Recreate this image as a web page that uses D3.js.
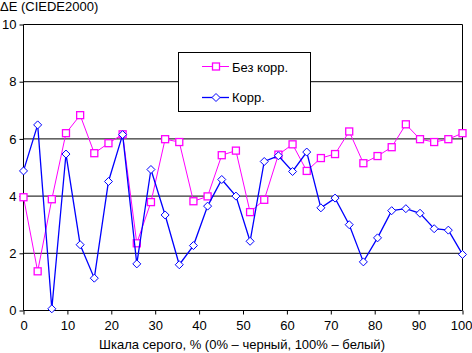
<!DOCTYPE html>
<html><head><meta charset="utf-8">
<script src="https://cdn.jsdelivr.net/npm/d3@7"></script>
<style>body{margin:0;background:#fff}svg{display:block}text{font-family:"Liberation Sans",Arial,sans-serif;font-size:13px;fill:#000}</style>
</head><body><svg id="c" width="472" height="353"></svg>
<script>
const xTicks = [0,10,20,30,40,50,60,70,80,90,100];
const yTicks = [0,2,4,6,8,10];
const seriesNames = ["Без корр.", "Корр."];
const bezKorr = [3.96,1.37,3.89,6.20,6.83,5.50,5.85,6.16,2.35,3.79,5.99,5.89,3.82,3.99,5.43,5.59,3.44,3.87,5.45,5.81,4.88,5.33,5.47,6.26,5.15,5.40,5.71,6.51,5.99,5.89,5.99,6.20];
const korr = [4.88,6.49,0.06,5.47,2.30,1.13,4.51,6.15,1.63,4.93,3.34,1.60,2.27,3.65,4.58,4.00,2.42,5.21,5.41,4.86,5.54,3.59,3.93,3.00,1.70,2.54,3.49,3.56,3.40,2.86,2.81,1.96];
const yTitle = "ΔE (CIEDE2000)";
const xTitle = "Шкала серого, % (0% – черный, 100% – белый)";

const svg = d3.select("#c");
const x = d3.scaleLinear().domain([0,100]).range([23.5,462.5]);
const y = d3.scaleLinear().domain([0,10]).range([310.5,24.5]);
const xAt = i => x(i*100/(bezKorr.length-1));

// gridlines
svg.append("g").selectAll("line").data(yTicks.filter(d=>d>0)).join("line")
  .attr("x1",x(0)).attr("x2",x(100)).attr("y1",d=>y(d)).attr("y2",d=>y(d))
  .attr("stroke","#000").attr("stroke-width",1);
// right border
svg.append("line").attr("x1",x(100)).attr("x2",x(100)).attr("y1",y(10)).attr("y2",y(0)).attr("stroke","#000");

// axes
const yAxis = d3.axisLeft(y).tickValues(yTicks).tickSize(4).tickPadding(3).tickFormat(d3.format("d"));
const gy = svg.append("g").attr("transform",`translate(${x(0)},0)`).call(yAxis);
const xAxis = d3.axisBottom(x).tickValues(xTicks).tickSize(4).tickPadding(6).tickFormat(d3.format("d"));
const gx = svg.append("g").attr("transform",`translate(0,${y(0)})`).call(xAxis);
[gy,gx].forEach(g=>{
  g.select(".domain").attr("stroke","#000");
  g.selectAll(".tick line").attr("stroke","#000");
  g.selectAll("text").style("font-family",'"Liberation Sans",Arial,sans-serif').style("font-size","13px").attr("fill","#000");
});
gx.select(".domain").attr("d",`M${x(0)},0H${x(100)}`);
gy.select(".domain").attr("d",`M0,${y(0)}V${y(10)}`);
gx.selectAll(".tick text").filter(d=>d===100).attr("text-anchor","end").attr("x",9.5);

// series
const line = d3.line().x((d,i)=>xAt(i)).y(d=>y(d));
svg.append("path").datum(bezKorr).attr("d",line).attr("fill","none").attr("stroke","#FF00FF").attr("stroke-width",1);
svg.append("g").selectAll("rect").data(bezKorr).join("rect")
  .attr("x",(d,i)=>xAt(i)-3.5).attr("y",d=>y(d)-3.5).attr("width",7).attr("height",7)
  .attr("fill","#fff").attr("stroke","#FF00FF").attr("stroke-width",1.3);
svg.append("path").datum(korr).attr("d",line).attr("fill","none").attr("stroke","#0000FF").attr("stroke-width",1.3);
const diamond = (cx,cy,r)=>`M${cx},${cy-r}L${cx+r},${cy}L${cx},${cy+r}L${cx-r},${cy}Z`;
svg.append("g").selectAll("path").data(korr).join("path")
  .attr("d",(d,i)=>diamond(xAt(i),y(d),4)).attr("fill","#fff").attr("stroke","#0000FF").attr("stroke-width",1);

// legend
const lg = svg.append("g");
lg.append("rect").attr("x",178.5).attr("y",52.5).attr("width",132).attr("height",59).attr("fill","#fff").attr("stroke","#000");
lg.append("line").attr("x1",202).attr("x2",229).attr("y1",66.5).attr("y2",66.5).attr("stroke","#FF00FF");
lg.append("rect").attr("x",212.5).attr("y",63).attr("width",7).attr("height",7).attr("fill","#fff").attr("stroke","#FF00FF").attr("stroke-width",1.3);
lg.append("text").attr("x",232).attr("y",71.5).text(seriesNames[0]);
lg.append("line").attr("x1",202).attr("x2",229).attr("y1",97.5).attr("y2",97.5).attr("stroke","#0000FF").attr("stroke-width",1.3);
lg.append("path").attr("d",diamond(216,97.5,4)).attr("fill","#fff").attr("stroke","#0000FF");
lg.append("text").attr("x",232).attr("y",102).text(seriesNames[1]);

// titles
svg.append("text").attr("x",0).attr("y",11).text(yTitle);
svg.append("text").attr("x",242).attr("y",349).attr("text-anchor","middle").text(xTitle);
</script></body></html>
